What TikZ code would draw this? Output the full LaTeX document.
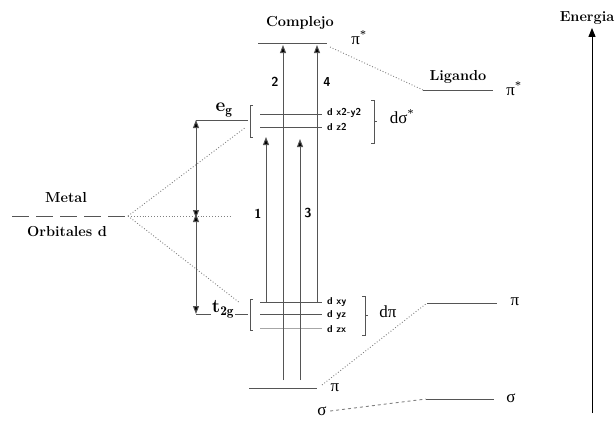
\documentclass[tikz,border=0pt]{standalone}
\usepackage{amsmath,amssymb}
\usepackage{fontspec}
\newfontfamily\grkfont{Liberation Serif}
\usetikzlibrary{arrows.meta,positioning}
\definecolor{lvlgray}{RGB}{85,85,85}

\tikzset{
  level/.style={draw=lvlgray, line width=1pt},
  corr/.style={draw=gray, dotted, line width=0.9pt},
  brack/.style={draw=lvlgray, line width=0.8pt},
  trans/.style={draw=lvlgray, line width=1pt, -{Triangle[length=8pt,width=6pt,fill=black]}},
  dbl/.style={draw=lvlgray, line width=1pt, {Triangle[length=8pt,width=6pt,fill=black]}-{Triangle[length=8pt,width=6pt,fill=black]}},
  lbl/.style={font=\fontsize{14.5}{16}\selectfont\bfseries},
  orb/.style={font=\fontsize{10}{11}\selectfont\sffamily\bfseries, anchor=west, inner sep=1pt},
  num/.style={font=\fontsize{13}{14}\selectfont\sffamily\bfseries},
  sym/.style={font=\fontsize{17}{18}\selectfont\grkfont},
}

\begin{document}
\begin{tikzpicture}[x=1pt, y=-1pt]
  \useasboundingbox (0,0) rectangle (615,423);

  % Titles
  \node[lbl] (cplx) at (300,23) {Complejo};
  \node[lbl] (lig) at (458,77) {Ligando};
  \node[lbl] (metal) at (66,198) {Metal};
  \node[lbl] (orbd) at (67,232) {Orbitales d};

  % Metal d orbitals
  \coordinate (mL) at (12,216);
  \coordinate (mR) at (128,216);
  \draw[level, dash pattern=on 17pt off 7pt] (mL) -- (mR);

  % Complex levels
  \coordinate (cpsL) at (258,43);  \coordinate (cpsR) at (327,43);
  \coordinate (x2L) at (260,114);  \coordinate (x2R) at (322,114);
  \coordinate (z2L) at (260,127);  \coordinate (z2R) at (322,127);
  \coordinate (xyL) at (260,302);  \coordinate (xyR) at (322,302);
  \coordinate (yzL) at (260,314);  \coordinate (yzR) at (322,314);
  \coordinate (zxL) at (260,328);  \coordinate (zxR) at (322,328);
  \coordinate (cpL) at (249,388);  \coordinate (cpR) at (317,388);
  \draw[level] (cpsL) -- (cpsR);
  \draw[level] (x2L) -- (x2R);
  \draw[level] (z2L) -- (z2R);
  \draw[level] (xyL) -- (xyR);
  \draw[level] (yzL) -- (yzR);
  \draw[level, draw=gray!70] (zxL) -- (zxR);
  \draw[level] (cpL) -- (cpR);

  % Ligand levels
  \coordinate (lpsL) at (423,90);  \coordinate (lpsR) at (493,90);
  \coordinate (lpL) at (427,303);  \coordinate (lpR) at (497,303);
  \coordinate (lsL) at (426,399);  \coordinate (lsR) at (494,399);
  \draw[level] (lpsL) -- (lpsR);
  \draw[level] (lpL) -- (lpR);
  \draw[level] (lsL) -- (lsR);

  % Orbital labels
  \node[orb] (ox2) at (326,113) {d x2-y2};
  \node[orb] (oz2) at (326,127) {d z2};
  \node[orb] (oxy) at (326,302) {d xy};
  \node[orb] (oyz) at (326,315) {d yz};
  \node[orb] (ozx) at (326,329) {d zx};

  % Brackets
  \draw[brack] (253,105) -- (250,105) -- (250,137) -- (253,137);
  \draw[brack] (371,100) -- (374,100) -- (374,143) -- (371,143);
  \draw[brack] (374,121) -- (377,121);
  \draw[brack] (253,299) -- (250,299) -- (250,330) -- (253,330);
  \draw[brack] (362,296) -- (365,296) -- (365,335) -- (362,335);
  \draw[brack] (365,315) -- (368,315);
  \node[sym] (dsig) at (402,117) {dσ\textsuperscript{*}};
  \node[sym] (dpi) at (388,312) {dπ};

  % Symmetry symbols
  \node[sym] (cps) at (359,38) {π\textsuperscript{*}};
  \node[sym] (lps) at (514,89) {π\textsuperscript{*}};
  \node[sym] (cp) at (335,388) {π};
  \node[sym] (lp) at (515,302) {π};
  \node[sym] (cs) at (322,411) {σ};
  \node[sym] (ls) at (511,398) {σ};

  % Correlation lines
  \coordinate (egB) at (246,127);
  \coordinate (tgB) at (240,303);
  \coordinate (mMid) at (230,216);
  \draw[corr] (mR) -- (egB);
  \draw[corr] (mR) -- (tgB);
  \draw[corr] (mR) -- (mMid);
  \draw[corr] (330,47) -- (lpsL);
  \draw[corr] (322,385) -- (lpL);
  \draw[draw=gray, dashed, line width=0.9pt] (cs.east) -- (lsL);

  % Splitting
  \coordinate (egA) at (196,120);
  \coordinate (egE) at (248,120);
  \coordinate (mA) at (196,216);
  \coordinate (tgA) at (196,314);
  \coordinate (tgE) at (248,314);
  \draw[level] (egA) -- (egE);
  \draw[level] (tgA) -- (tgE);
  \draw[dbl] (egA) -- ([yshift=-2pt]mA);
  \draw[dbl] ([yshift=2pt]mA) -- (tgA);
  \node[font=\fontsize{19}{20}\selectfont\bfseries, inner sep=0.5pt] (eg) at (224,110) {e$_{\mathbf{g}}$};
  \node[font=\fontsize{19}{20}\selectfont\bfseries, fill=white, inner sep=0.5pt] (tg) at (223,309) {t$_{\mathbf{2g}}$};

  % Transitions
  \coordinate (a1) at (266,302);  \coordinate (b1) at (266,137);
  \coordinate (a2) at (283,380);  \coordinate (b2) at (283,45);
  \coordinate (a3) at (300,380);  \coordinate (b3) at (300,139);
  \coordinate (a4) at (317,302);  \coordinate (b4) at (317,45);
  \draw[trans] (a1) -- (b1);
  \draw[trans] (a2) -- (b2);
  \draw[trans] (a3) -- (b3);
  \draw[trans] (a4) -- (b4);
  \node[num] (n1) at (258,214) {1};
  \node[num] (n2) at (275,82) {2};
  \node[num] (n3) at (308,213) {3};
  \node[num] (n4) at (327,82) {4};

  % Energy axis
  \node[lbl] (en) at (587,18) {Energia};
  \coordinate (enB) at (592,413);
  \draw[line width=1pt, -{Triangle[length=9pt,width=7pt]}] (enB) -- (en.south -| enB);
\end{tikzpicture}
\end{document}
